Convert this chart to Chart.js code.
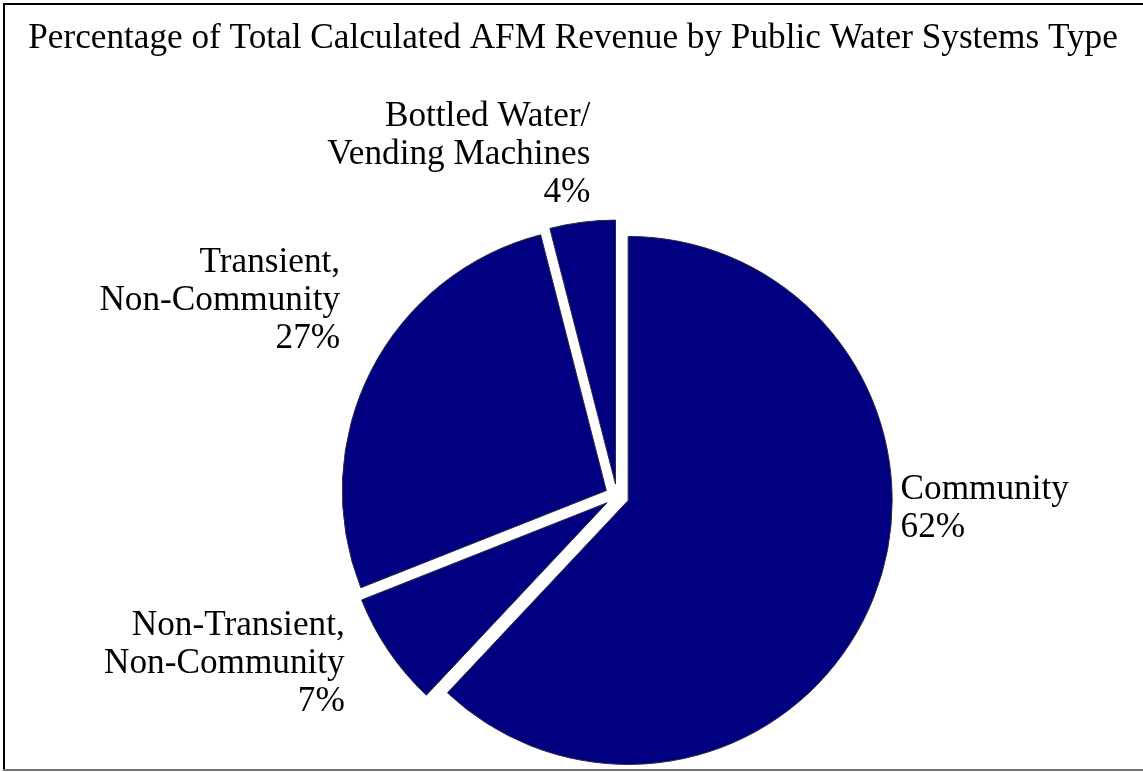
<!DOCTYPE html>
<html>
<head>
<meta charset="utf-8">
<script src="https://cdn.jsdelivr.net/npm/chart.js@4.4.1/dist/chart.umd.min.js"></script>
<style>
html, body { margin: 0; padding: 0; background: #ffffff; overflow: hidden; }
#wrap { width: 1143px; height: 772px; position: relative; }
canvas { display: block; }
</style>
</head>
<body>
<div id="wrap"><canvas id="c" width="1143" height="772"></canvas></div>
<script>
// ---- data ----
const titleText = 'Percentage of Total Calculated AFM Revenue by Public Water Systems Type';
const categories = ['Community', 'Non-Transient, Non-Community', 'Transient, Non-Community', 'Bottled Water/ Vending Machines'];
const labelLines = [
  ['Community'],
  ['Non-Transient,', 'Non-Community'],
  ['Transient,', 'Non-Community'],
  ['Bottled Water/', 'Vending Machines']
];
const percentages = [62, 7, 27, 4];

// ---- style ----
const FONT_FAMILY = '"Liberation Serif", "Times New Roman", serif';
const mctx = document.createElement('canvas').getContext('2d');
mctx.font = '100px ' + FONT_FAMILY;
const fontSize = 100 * 1090 / mctx.measureText(titleText).width;

const frameAndTitle = {
  id: 'frameAndTitle',
  afterDraw(chart) {
    const ctx = chart.ctx;
    ctx.save();
    ctx.fillStyle = '#000';
    ctx.fillRect(3, 3, 1140, 2);
    ctx.fillRect(3, 3, 2, 768);
    ctx.fillStyle = '#777';
    ctx.fillRect(3, 769, 1140, 2);
    ctx.fillStyle = '#000';
    ctx.font = fontSize + 'px ' + FONT_FAMILY;
    ctx.textAlign = 'center';
    ctx.textBaseline = 'alphabetic';
    ctx.fillText(titleText, 573, 48);
    ctx.restore();
  }
};

const explode = {
  id: 'explode',
  beforeDatasetDraw(chart, args, opts) {
    args.meta.data.forEach(arc => {
      if (arc._exploded) return;
      const orig = arc.draw;
      arc.draw = function (ctx, area) {
        const mid = (this.startAngle + this.endAngle) / 2;
        ctx.save();
        ctx.translate(Math.cos(mid) * opts.distance, Math.sin(mid) * opts.distance);
        orig.call(this, ctx, area);
        ctx.restore();
      };
      arc._exploded = true;
    });
  }
};

const sliceLabels = {
  id: 'sliceLabels',
  afterDatasetsDraw(chart, args, opts) {
    const ctx = chart.ctx;
    const meta = chart.getDatasetMeta(0);
    const dist = chart.options.plugins.explode.distance;
    ctx.save();
    ctx.fillStyle = '#000';
    ctx.font = opts.fontSize + 'px ' + FONT_FAMILY;
    ctx.textBaseline = 'alphabetic';
    meta.data.forEach((arc, i) => {
      const mid = (arc.startAngle + arc.endAngle) / 2;
      const R = arc.outerRadius + dist;
      const px = arc.x + Math.cos(mid) * R + opts.nudges[i][0];
      const py = arc.y + Math.sin(mid) * R + opts.nudges[i][1];
      ctx.textAlign = Math.cos(mid) >= 0 ? 'left' : 'right';
      const lines = labelLines[i].concat([percentages[i] + '%']);
      const n = lines.length;
      lines.forEach((t, k) => {
        ctx.fillText(t, px, py + (k - (n - 1) / 2) * opts.lineHeight);
      });
    });
    ctx.restore();
  }
};

new Chart(document.getElementById('c'), {
  type: 'pie',
  data: {
    labels: categories,
    datasets: [{
      data: percentages,
      backgroundColor: '#000080',
      borderColor: '#2a2a40',
      borderWidth: 1
    }]
  },
  options: {
    responsive: false,
    animation: false,
    events: [],
    radius: 264,
    layout: { padding: { left: 91, right: 0, top: 220, bottom: 0 } },
    plugins: {
      legend: { display: false },
      title: { display: false },
      tooltip: { enabled: false },
      explode: { distance: 12 },
      sliceLabels: {
        fontSize: fontSize,
        lineHeight: 38,
        nudges: [[27, -80], [-44, 22], [-31, -61], [8, -58]]
      }
    }
  },
  plugins: [explode, sliceLabels, frameAndTitle]
});
</script>
</body>
</html>
